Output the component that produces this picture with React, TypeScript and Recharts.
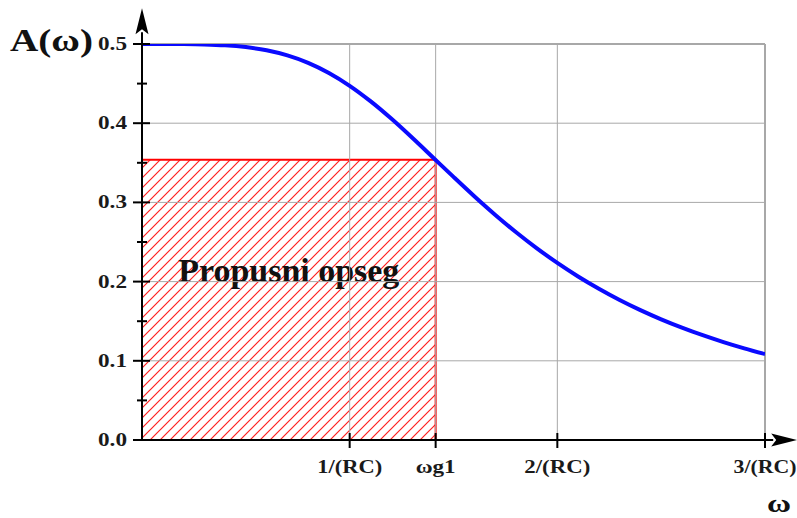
import { ComposedChart, Line, XAxis, YAxis, ReferenceLine, ReferenceArea } from 'recharts';

// normalized frequency (in units of 1/(RC)) and amplitude response
const omega = [
  0, 0.1, 0.2, 0.3, 0.4, 0.5, 0.6, 0.7, 0.8, 0.9, 1.0, 1.1, 1.2, 1.3, 1.4, 1.5,
  1.6, 1.7, 1.8, 1.9, 2.0, 2.1, 2.2, 2.3, 2.4, 2.5, 2.6, 2.7, 2.8, 2.9, 3.0,
];
const amplitude = [
  0.5, 0.5, 0.4999, 0.4995, 0.4984, 0.4961, 0.4921, 0.4856, 0.4762, 0.4634, 0.4472,
  0.4278, 0.4058, 0.3819, 0.3571, 0.3322, 0.3078, 0.2845, 0.2626, 0.2423, 0.2236,
  0.2065, 0.191, 0.1768, 0.164, 0.1524, 0.1419, 0.1323, 0.1236, 0.1157, 0.1085,
];

const omegaG1 = 1.414;
const amplitudeG1 = 0.354;

const xTicks = [1, omegaG1, 2, 3];
const xTickLabels = ['1/(RC)', 'ωg1', '2/(RC)', '3/(RC)'];
const xTickWidths = [65, 40, 66, 63];
const yTicks = [0, 0.05, 0.1, 0.15, 0.2, 0.25, 0.3, 0.35, 0.4, 0.45, 0.5];
const yGrid = [0.1, 0.2, 0.3, 0.4];
const xGrid = [1, omegaG1, 2];

const data = omega.map((w, i) => ({ w, a: amplitude[i] }));

const serif = '"Liberation Serif", "Times New Roman", serif';
const gridColor = '#a8a8a8';

const YTick = (props: any) => {
  const { x, y, payload, index } = props;
  const major = index % 2 === 0;
  return (
    <g>
      <line x1={x - (major ? 9 : 5)} x2={x + (major ? 8 : 5)} y1={y} y2={y} stroke="#000" strokeWidth={2} />
      {major && (
        <text x={x - 15} y={y} dy={6} textAnchor="end" fontFamily={serif} fontWeight="bold"
          fontSize={18} fill="#1a1a1a" textLength={29} lengthAdjust="spacingAndGlyphs">
          {Number(payload.value).toFixed(1)}
        </text>
      )}
    </g>
  );
};

const XTick = (props: any) => {
  const { x, y, index } = props;
  return (
    <g>
      <line x1={x} x2={x} y1={y - 7} y2={y + 8} stroke="#000" strokeWidth={2} />
      <text x={x} y={y + 33} textAnchor="middle" fontFamily={serif} fontWeight="bold"
        fontSize={18} fill="#1a1a1a" textLength={xTickWidths[index]} lengthAdjust="spacingAndGlyphs">
        {xTickLabels[index]}
      </text>
    </g>
  );
};

// axis line with a filled arrow head at the far end
const Arrow = (props: any) => {
  const { x1, y1, x2, y2 } = props;
  const len = Math.hypot(x2 - x1, y2 - y1);
  const ux = (x2 - x1) / len;
  const uy = (y2 - y1) / len;
  const head = 26;
  const half = 6.5;
  const bx = x2 - ux * head;
  const by = y2 - uy * head;
  return (
    <g>
      <line x1={x1} y1={y1} x2={bx + ux * 2} y2={by + uy * 2} stroke="#000" strokeWidth={2} />
      <polygon
        points={`${x2},${y2} ${bx - uy * half},${by + ux * half} ${bx + ux * 5},${by + uy * 5} ${bx + uy * half},${by - ux * half}`}
        fill="#000"
      />
    </g>
  );
};

export default function App() {
  return (
    <div style={{ position: 'absolute', left: 0, top: 0 }}>
      <ComposedChart width={797} height={518} data={data}
        margin={{ top: 44, right: 32, bottom: 38, left: 82 }}>
        <defs>
          <pattern id="hatch" patternUnits="userSpaceOnUse" width={10} height={10}>
            <path d="M-1,1 L1,-1 M0,10 L10,0 M9,11 L11,9" stroke="#ff2020" strokeWidth={1.2} />
          </pattern>
        </defs>
        <XAxis dataKey="w" type="number" domain={[0, 3]} ticks={xTicks} interval={0}
          axisLine={false} tickLine={false} tickSize={0} tickMargin={0} height={40}
          allowDataOverflow tick={<XTick />}
          label={{
            content: (p: any) => (
              <text x={p.viewBox.x + p.viewBox.width + 14} y={p.viewBox.y + 72} textAnchor="middle"
                fontFamily={serif} fontWeight="bold" fontSize={26} fill="#111"
                textLength={24} lengthAdjust="spacingAndGlyphs">ω</text>
            ),
          }}
        />
        <YAxis type="number" domain={[0, 0.5]} ticks={yTicks} interval={0}
          axisLine={false} tickLine={false} tickSize={0} tickMargin={0} width={60}
          allowDataOverflow tick={<YTick />}
          label={{
            content: (p: any) => (
              <text x={p.viewBox.x + p.viewBox.width - 132} y={p.viewBox.y + 7}
                fontFamily={serif} fontWeight="bold" fontSize={32} fill="#111"
                textLength={83} lengthAdjust="spacingAndGlyphs">A(ω)</text>
            ),
          }}
        />
        {yGrid.map((v) => (
          <ReferenceLine key={`h${v}`} y={v} stroke={gridColor} strokeWidth={1} />
        ))}
        <ReferenceLine y={0.5} stroke={gridColor} strokeWidth={2} />
        {xGrid.map((v) => (
          <ReferenceLine key={`v${v}`} x={v} stroke={gridColor} strokeWidth={1} />
        ))}
        <ReferenceLine x={3} stroke={gridColor} strokeWidth={2} />
        <ReferenceArea x1={0} x2={omegaG1} y1={0} y2={amplitudeG1} fill="url(#hatch)" fillOpacity={1}
          stroke="#ff0000" strokeWidth={2}
          label={{
            content: (p: any) => (
              <text x={p.viewBox.x + p.viewBox.width / 2} y={p.viewBox.y + 122} textAnchor="middle"
                fontFamily={serif} fontWeight="bold" fontSize={34} fill="#111"
                textLength={221} lengthAdjust="spacingAndGlyphs">Propusni opseg</text>
            ),
          }}
        />
        <Line type="monotone" dataKey="a" stroke="#0a0aff" strokeWidth={4} dot={false}
          activeDot={false} isAnimationActive={false} />
        <ReferenceLine segment={[{ x: 0, y: 0 }, { x: 3.155, y: 0 }]} ifOverflow="visible" shape={<Arrow />} />
        <ReferenceLine segment={[{ x: 0, y: 0 }, { x: 0, y: 0.545 }]} ifOverflow="visible" shape={<Arrow />} />
      </ComposedChart>
    </div>
  );
}
